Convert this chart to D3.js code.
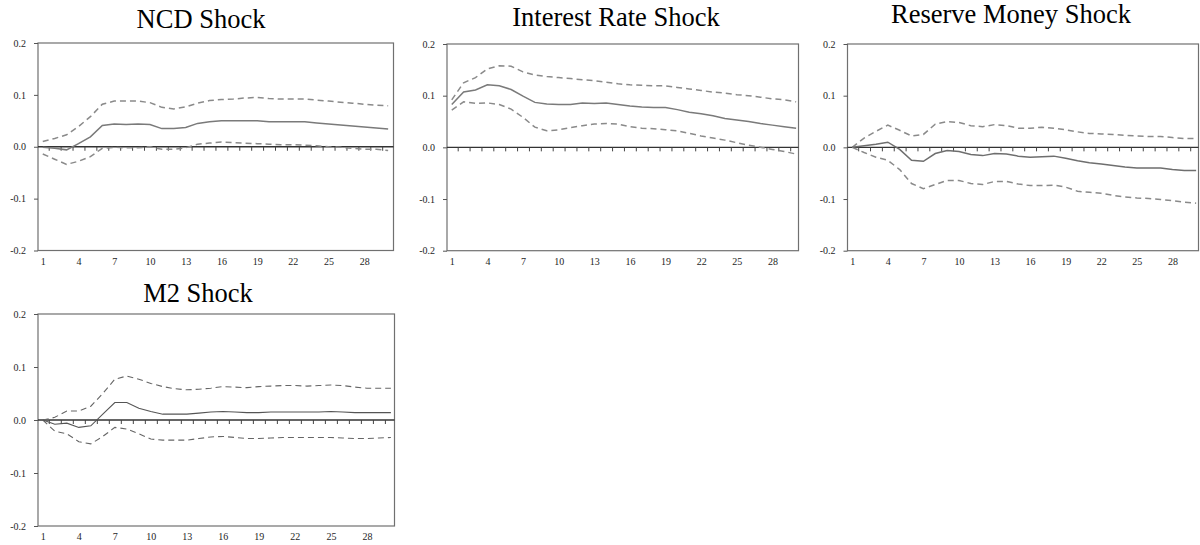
<!DOCTYPE html>
<html>
<head>
<meta charset="utf-8">
<script src="https://cdn.jsdelivr.net/npm/d3@7"></script>
<style>
  html, body { margin: 0; padding: 0; background: #fff; }
  svg { display: block; }
  text { font-family: "Liberation Serif", "Times New Roman", serif; }
</style>
</head>
<body>
<svg id="chart" width="1200" height="545"></svg>
<script>
// Horizon (periods after the shock)
const periods = [1, 2, 3, 4, 5, 6, 7, 8, 9, 10, 11, 12, 13, 14, 15,
                 16, 17, 18, 19, 20, 21, 22, 23, 24, 25, 26, 27, 28, 29, 30];
const xTickLabels = [1, 4, 7, 10, 13, 16, 19, 22, 25, 28];
const yTickValues = [-0.2, -0.1, 0.0, 0.1, 0.2];

const panelTitles = ["NCD Shock", "Interest Rate Shock", "Reserve Money Shock", "M2 Shock"];

// Impulse responses with upper / lower confidence bands
const ncdResponse = [-0.001, -0.003, -0.006, 0.006, 0.019, 0.041, 0.044, 0.043, 0.044, 0.043,
                     0.035, 0.035, 0.037, 0.045, 0.048, 0.050, 0.050, 0.050, 0.050, 0.048,
                     0.048, 0.048, 0.048, 0.046, 0.044, 0.042, 0.040, 0.038, 0.036, 0.034];
const ncdUpper = [0.010, 0.016, 0.023, 0.039, 0.058, 0.082, 0.088, 0.088, 0.088, 0.085,
                  0.076, 0.073, 0.077, 0.084, 0.089, 0.091, 0.092, 0.094, 0.095, 0.093,
                  0.092, 0.092, 0.092, 0.090, 0.088, 0.086, 0.084, 0.082, 0.080, 0.079];
const ncdLower = [-0.014, -0.024, -0.034, -0.028, -0.019, -0.003, -0.001, -0.002, -0.002, 0.000,
                  -0.005, -0.005, -0.002, 0.005, 0.007, 0.009, 0.008, 0.007, 0.006, 0.005,
                  0.004, 0.004, 0.003, 0.002, 0.000, -0.001, -0.003, -0.005, -0.005, -0.007];

const rateResponse = [0.083, 0.107, 0.111, 0.121, 0.119, 0.112, 0.099, 0.087, 0.084, 0.083,
                      0.083, 0.086, 0.085, 0.086, 0.083, 0.080, 0.078, 0.077, 0.077, 0.073,
                      0.068, 0.065, 0.061, 0.056, 0.053, 0.050, 0.046, 0.043, 0.040, 0.037];
const rateUpper = [0.092, 0.125, 0.135, 0.152, 0.158, 0.157, 0.146, 0.140, 0.137, 0.135,
                   0.133, 0.131, 0.129, 0.126, 0.123, 0.121, 0.120, 0.119, 0.119, 0.116,
                   0.113, 0.110, 0.107, 0.105, 0.102, 0.100, 0.097, 0.094, 0.092, 0.088];
const rateLower = [0.072, 0.088, 0.085, 0.086, 0.083, 0.074, 0.058, 0.039, 0.032, 0.034,
                   0.038, 0.042, 0.045, 0.046, 0.045, 0.040, 0.037, 0.036, 0.034, 0.032,
                   0.027, 0.022, 0.018, 0.014, 0.009, 0.004, 0.000, -0.004, -0.008, -0.013];

const reserveResponse = [0.000, 0.003, 0.006, 0.010, -0.004, -0.025, -0.027, -0.012, -0.006, -0.008,
                         -0.014, -0.016, -0.012, -0.013, -0.017, -0.019, -0.018, -0.017, -0.021, -0.026,
                         -0.030, -0.032, -0.035, -0.038, -0.040, -0.040, -0.040, -0.043, -0.045, -0.045];
const reserveUpper = [0.000, 0.018, 0.031, 0.043, 0.033, 0.022, 0.025, 0.045, 0.050, 0.048,
                      0.042, 0.040, 0.044, 0.042, 0.037, 0.037, 0.039, 0.037, 0.034, 0.030,
                      0.027, 0.026, 0.025, 0.023, 0.022, 0.021, 0.021, 0.019, 0.017, 0.017];
const reserveLower = [0.000, -0.010, -0.019, -0.025, -0.043, -0.070, -0.080, -0.072, -0.064, -0.064,
                      -0.070, -0.072, -0.066, -0.066, -0.071, -0.074, -0.074, -0.073, -0.077, -0.085,
                      -0.087, -0.089, -0.093, -0.096, -0.098, -0.099, -0.101, -0.103, -0.106, -0.108];

const m2Response = [0.000, -0.008, -0.006, -0.014, -0.011, 0.011, 0.033, 0.033, 0.022, 0.016,
                    0.011, 0.011, 0.011, 0.013, 0.015, 0.016, 0.015, 0.014, 0.014, 0.015,
                    0.015, 0.015, 0.015, 0.015, 0.016, 0.015, 0.014, 0.014, 0.014, 0.014];
const m2Upper = [0.000, 0.005, 0.017, 0.017, 0.026, 0.050, 0.077, 0.083, 0.077, 0.069,
                 0.063, 0.059, 0.057, 0.058, 0.060, 0.063, 0.062, 0.061, 0.063, 0.064,
                 0.065, 0.065, 0.064, 0.065, 0.066, 0.065, 0.062, 0.060, 0.060, 0.060];
const m2Lower = [0.000, -0.021, -0.026, -0.041, -0.045, -0.031, -0.014, -0.017, -0.026, -0.036,
                 -0.038, -0.038, -0.038, -0.035, -0.032, -0.031, -0.033, -0.035, -0.035, -0.034,
                 -0.033, -0.033, -0.033, -0.033, -0.033, -0.034, -0.035, -0.035, -0.034, -0.033];

// Panel frames and title placement
const panels = [
  { title: panelTitles[0], response: ncdResponse, upper: ncdUpper, lower: ncdLower,
    left: 38, top: 43, right: 393.5, bottom: 250.5, xMax: 30.45,
    titleX: 201, titleY: 27.5, solid: "#7a7a7a", dash: "#8a8a8a", solidW: 1.5, dashW: 1.5 },
  { title: panelTitles[1], response: rateResponse, upper: rateUpper, lower: rateLower,
    left: 447, top: 44, right: 798.5, bottom: 250.7, xMax: 30.2,
    titleX: 616, titleY: 26, solid: "#7a7a7a", dash: "#8a8a8a", solidW: 1.5, dashW: 1.5 },
  { title: panelTitles[2], response: reserveResponse, upper: reserveUpper, lower: reserveLower,
    left: 847.5, top: 44, right: 1198.5, bottom: 250.7, xMax: 30.2,
    titleX: 1011, titleY: 22.5, solid: "#6e6e6e", dash: "#8a8a8a", solidW: 1.5, dashW: 1.5 },
  { title: panelTitles[3], response: m2Response, upper: m2Upper, lower: m2Lower,
    left: 38, top: 314, right: 394.5, bottom: 526, xMax: 30.3,
    titleX: 198, titleY: 301.5, solid: "#555", dash: "#666", solidW: 1.1, dashW: 1.1 }
];

const svg = d3.select("#chart");
const halfTicks = periods.slice(0, periods.length - 1).map(p => p + 0.5);
const labelFont = "\"Liberation Serif\", \"Times New Roman\", serif";

panels.forEach(p => {
  const x = d3.scaleLinear().domain([0.6, p.xMax]).range([p.left, p.right]);
  const y = d3.scaleLinear().domain([-0.2, 0.2]).range([p.bottom, p.top]);
  const g = svg.append("g");

  // Title
  g.append("text")
    .attr("x", p.titleX).attr("y", p.titleY)
    .attr("text-anchor", "middle")
    .attr("font-size", 26.5)
    .attr("fill", "#000")
    .text(p.title);

  // Frame
  g.append("rect")
    .attr("x", p.left).attr("y", p.top)
    .attr("width", p.right - p.left).attr("height", p.bottom - p.top)
    .attr("fill", "none").attr("stroke", "#707070").attr("stroke-width", 1.2);

  // Left axis
  const yAxis = g.append("g")
    .attr("transform", `translate(${p.left},0)`)
    .call(d3.axisLeft(y).tickValues(yTickValues).tickSize(4).tickSizeOuter(0)
      .tickPadding(8).tickFormat(d => d.toFixed(1)));
  yAxis.select(".domain").remove();
  yAxis.selectAll("line").attr("stroke", "#555");
  yAxis.selectAll("text").attr("font-size", 10).attr("fill", "#1e1e1e")
    .attr("font-family", labelFont);

  // Bottom labels
  const xAxis = g.append("g")
    .attr("transform", `translate(0,${p.bottom})`)
    .call(d3.axisBottom(x).tickValues(xTickLabels).tickSize(0).tickPadding(7));
  xAxis.select(".domain").remove();
  xAxis.selectAll("text").attr("font-size", 10).attr("fill", "#1e1e1e")
    .attr("font-family", labelFont);

  // Zero line with short ticks between periods
  const zAxis = g.append("g")
    .attr("transform", `translate(0,${y(0)})`)
    .call(d3.axisBottom(x).tickValues(halfTicks).tickSize(4).tickSizeOuter(0).tickFormat(""));
  zAxis.select(".domain").attr("stroke", "#333").attr("stroke-width", 1.3)
    .attr("d", `M${p.left},0H${p.right}`);
  zAxis.selectAll("line").attr("stroke", "#444");

  const line = d3.line().x((d, i) => x(periods[i])).y(d => y(d));

  g.append("path").datum(p.upper)
    .attr("d", line).attr("fill", "none")
    .attr("stroke", p.dash).attr("stroke-width", p.dashW).attr("stroke-dasharray", "6,4");
  g.append("path").datum(p.lower)
    .attr("d", line).attr("fill", "none")
    .attr("stroke", p.dash).attr("stroke-width", p.dashW).attr("stroke-dasharray", "6,4");
  g.append("path").datum(p.response)
    .attr("d", line).attr("fill", "none")
    .attr("stroke", p.solid).attr("stroke-width", p.solidW);
});
</script>
</body>
</html>
